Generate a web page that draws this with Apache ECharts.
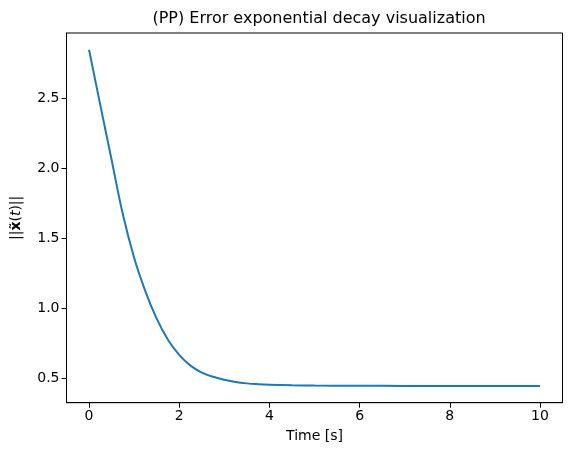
<!DOCTYPE html>
<html>
<head>
<meta charset="utf-8">
<script src="https://cdn.jsdelivr.net/npm/echarts@6/dist/echarts.min.js"></script>
<style>
  html, body { margin: 0; padding: 0; background: #fff; }
  #main { width: 571px; height: 455px; }
</style>
</head>
<body>
<div id="main"></div>
<script>
// data
const timeValues = [0, 0.25, 0.5, 0.75, 1, 1.25, 1.5, 1.75, 2, 2.25, 2.5, 2.75, 3, 3.25, 3.5, 3.75, 4, 4.5, 5, 6, 7, 8, 9, 10]
const errorValues = [2.845, 2.45, 2.06, 1.67, 1.36, 1.12, 0.925, 0.775, 0.667, 0.59, 0.54, 0.51, 0.489, 0.473, 0.463, 0.457, 0.453, 0.449, 0.447, 0.446, 0.445, 0.445, 0.445, 0.445]
const xTicks = [0, 2, 4, 6, 8, 10]
const yTicks = [0.5, 1.0, 1.5, 2.0, 2.5]

const font = "DejaVu Sans"

const options = {
  animation: false,
  title: {
    text: "(PP) Error exponential decay visualization",
    left: 314, top: 6, textAlign: "center",
    textStyle: { fontFamily: font, fontSize: 16, fontWeight: "normal", color: "#000" }
  },
  grid: {
    left: 66.5, right: 8.5, top: 33, bottom: 52.3,
    show: true, borderColor: "#000", borderWidth: 1
  },
  xAxis: {
    type: "value", min: -0.5, max: 10.5,
    name: "Time [s]", nameLocation: "middle", nameGap: 27,
    nameTextStyle: { fontFamily: font, fontSize: 14, color: "#000" },
    axisLine: { show: true, onZero: false, lineStyle: { color: "#000" } },
    axisTick: { show: true, length: 5, lineStyle: { color: "#000" }, customValues: xTicks },
    axisLabel: { fontFamily: font, fontSize: 14, color: "#000", margin: 7,
      customValues: xTicks, formatter: v => String(v) },
    splitLine: { show: false }
  },
  yAxis: {
    type: "value", min: 0.325, max: 2.965,
    name: "{n|||}{b|x\u0303}{n|(}{i|t}{n|)||}", nameLocation: "middle", nameGap: 43, nameRotate: 90,
    nameTextStyle: { fontFamily: font, fontSize: 14, color: "#000",
      rich: {
        n: { fontFamily: font, fontSize: 14, color: "#000" },
        b: { fontFamily: font, fontSize: 14, color: "#000", fontWeight: "bold" },
        i: { fontFamily: font, fontSize: 14, color: "#000", fontStyle: "italic" }
      }
    },
    axisLine: { show: true, onZero: false, lineStyle: { color: "#000" } },
    axisTick: { show: true, length: 5, lineStyle: { color: "#000" }, customValues: yTicks },
    axisLabel: { fontFamily: font, fontSize: 14, color: "#000", margin: 7,
      customValues: yTicks, formatter: v => v.toFixed(1) },
    splitLine: { show: false }
  },
  series: [{
    type: "line",
    data: timeValues.map((t, i) => [t, errorValues[i]]),
    smooth: 0.4,
    showSymbol: false,
    lineStyle: { color: "#1f77b4", width: 2 },
    itemStyle: { color: "#1f77b4" }
  }]
}

const myChart = echarts.init(document.getElementById("main"))
myChart.setOption(options)
</script>
</body>
</html>
